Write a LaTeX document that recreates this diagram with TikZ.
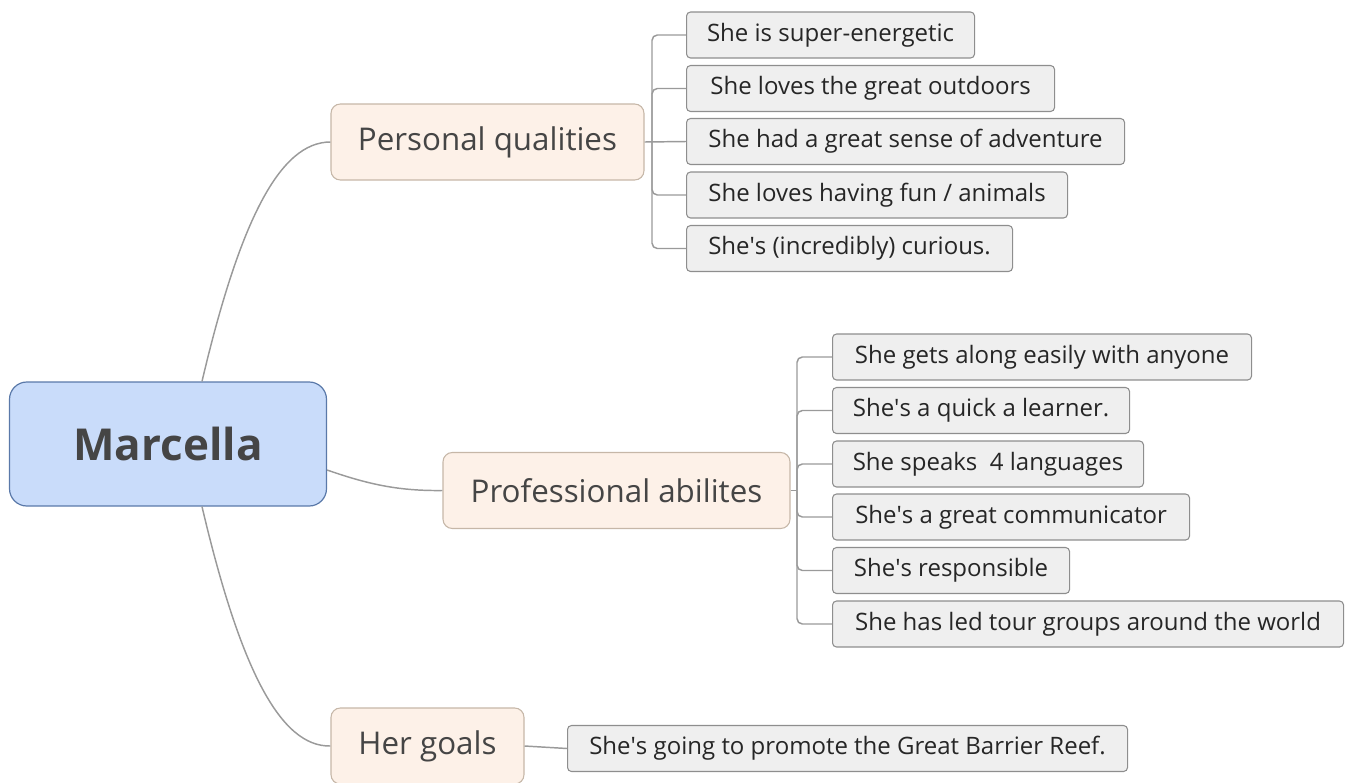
\documentclass[tikz,border=0pt]{standalone}
\usepackage{fontspec}
\setmainfont{Open Sans}
\definecolor{rootfill}{HTML}{C9DCFA}
\definecolor{rootline}{HTML}{5A79A9}
\definecolor{topicfill}{HTML}{FDF1E8}
\definecolor{topicline}{HTML}{C6B7A8}
\definecolor{leaffill}{HTML}{EFEFEF}
\definecolor{leafline}{HTML}{8E8E8E}
\definecolor{linkgray}{HTML}{9A9A9A}
\definecolor{textgray}{HTML}{454545}
\newcommand{\apos}{\textquotesingle}

\begin{document}
\begin{tikzpicture}[x=0.75pt,y=-0.75pt,
  root/.style={draw=rootline,fill=rootfill,line width=0.9pt,rounded corners=13pt,
    minimum width=237.75pt,minimum height=93pt,text=textgray,
    font=\fontsize{33}{40}\selectfont\bfseries},
  topic/.style={draw=topicline,fill=topicfill,line width=0.8pt,rounded corners=7pt,
    minimum width=#1*0.75pt,minimum height=57pt,text=textgray,
    font=\fontsize{23.5}{28}\selectfont},
  leaf/.style={draw=leafline,fill=leaffill,line width=0.8pt,rounded corners=3pt,
    minimum width=#1*0.75pt,minimum height=34.5pt,anchor=west,text=black!85,
    font=\fontsize{18}{22}\selectfont},
  link/.style={draw=linkgray,line width=1.1pt},
  fork/.style={link,rounded corners=4pt}]
  \useasboundingbox (0,0) rectangle (1348,782);

  \node[root] (marcella) at (168,444) {Marcella};

  \node[topic=313] (personal) at (487.5,142) {Personal qualities};
  \node[topic=347] (professional) at (616.5,490.5) {Professional abilites};
  \node[topic=193] (goals) at (427.5,746) {Her goals};

  \draw[link] ([xshift=25.5pt]marcella.north) .. controls (240,220) and (280,142) .. (personal.west);
  \draw[link] ([yshift=-19.5pt]marcella.east) .. controls (370,485) and (400,491) .. (professional.west);
  \draw[link] ([xshift=25.5pt]marcella.south) .. controls (240,668) and (280,747) .. (goals.west);

  % personal qualities
  \node[leaf=288] (pq1) at (686,35) {She is super-energetic};
  \node[leaf=368] (pq2) at (686,88.5) {She loves the great outdoors};
  \node[leaf=438] (pq3) at (686,141.5) {She had a great sense of adventure};
  \node[leaf=381] (pq4) at (686,195) {She loves having fun / animals};
  \node[leaf=326] (pq5) at (686,248.5) {She\apos s (incredibly) curious.};

  \coordinate (pqfork) at (652,142);
  \draw[link] (personal.east) -- (pq3.west);
  \foreach \i in {1,2,4,5}
    \draw[fork] (pqfork) |- (pq\i.west);

  % professional abilites
  \node[leaf=419] (pa1) at (832,357) {She gets along easily with anyone};
  \node[leaf=297] (pa2) at (832,410.5) {She\apos s a quick a learner.};
  \node[leaf=311] (pa3) at (832,464) {She speaks\ \ 4 languages};
  \node[leaf=357] (pa4) at (832,517) {She\apos s a great communicator};
  \node[leaf=237] (pa5) at (832,570.5) {She\apos s responsible};
  \node[leaf=511] (pa6) at (832,624) {She has led tour groups around the world};

  \coordinate (pafork) at (797,490.5);
  \draw[link] (professional.east) -- (pafork);
  \foreach \i in {1,...,6}
    \draw[fork] (pafork) |- (pa\i.west);

  % her goals
  \node[leaf=560] (hg1) at (567,748.5) {She\apos s going to promote the Great Barrier Reef.};
  \draw[link] (goals.east) -- (hg1.west);
\end{tikzpicture}
\end{document}
